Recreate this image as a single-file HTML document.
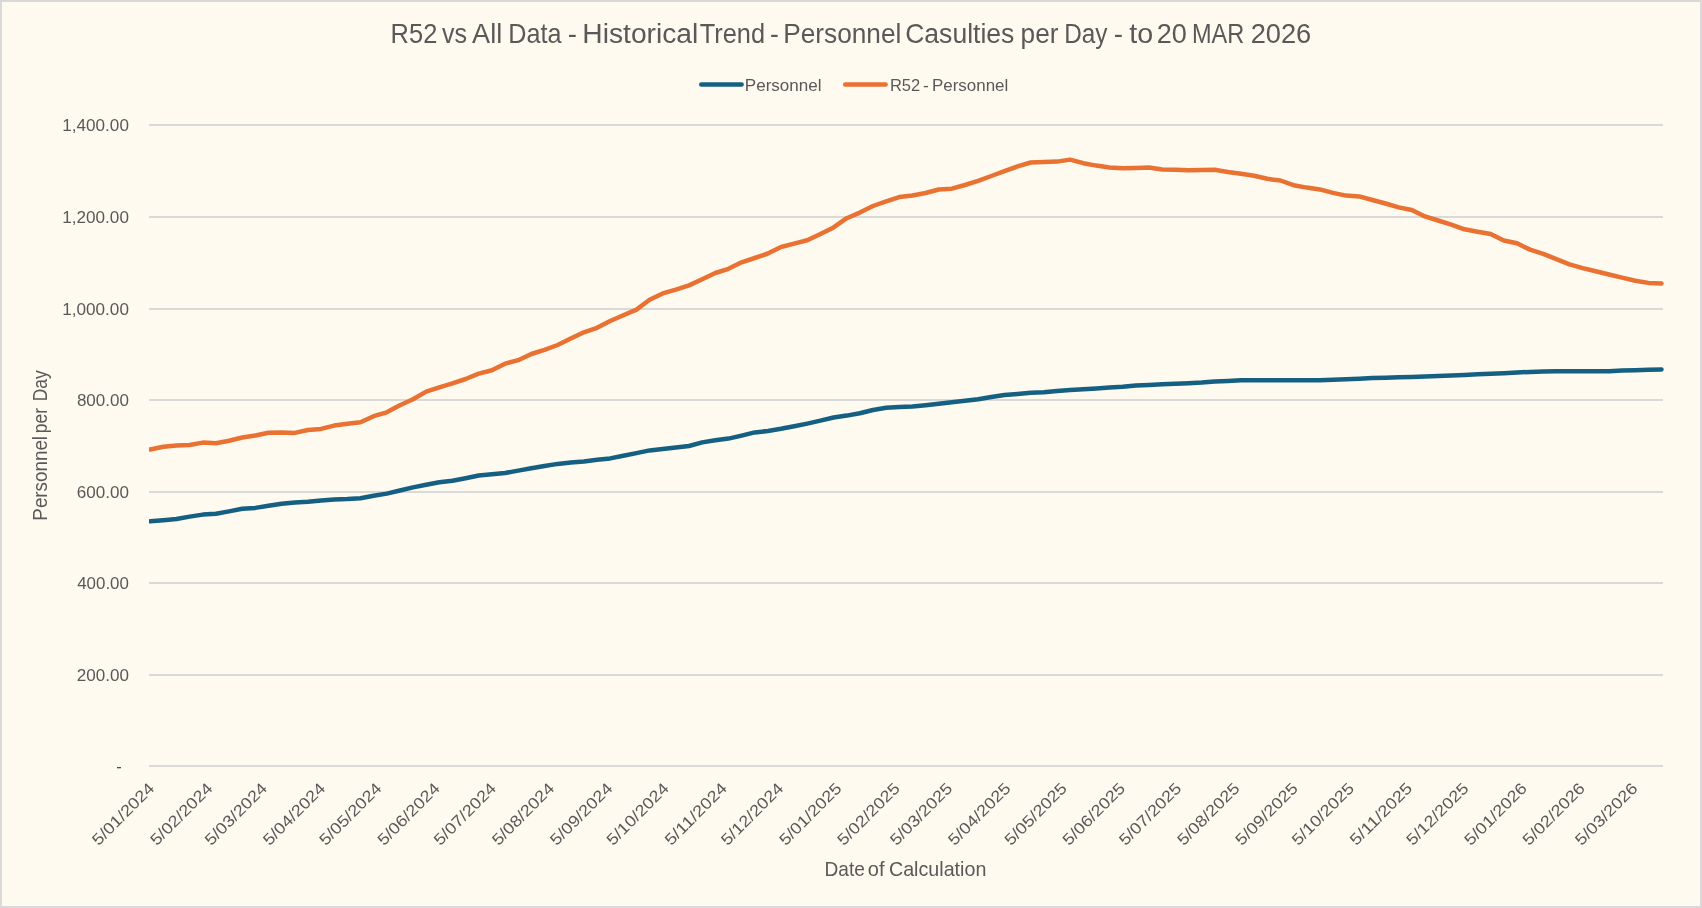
<!DOCTYPE html>
<html><head><meta charset="utf-8"><title>R52 vs All Data - Historical Trend</title>
<style>
html,body{margin:0;padding:0;background:#D9D9D9;}
#c{position:relative;width:1702px;height:908px;background:#FEFAEF;overflow:hidden;}
svg{position:absolute;left:0;top:0;will-change:transform;}
text{font-family:"Liberation Sans",sans-serif;fill:#595959;}
</style></head><body>
<div id="c">
<svg width="1702" height="908" viewBox="0 0 1702 908">
<defs><clipPath id="pa"><rect x="149" y="100" width="1540" height="700"/></clipPath></defs>

<rect x="1" y="1" width="1700" height="906" fill="none" stroke="#D9D9D9" stroke-width="2"/>
<rect x="149" y="124" width="1514" height="2" fill="#D9D9D9"/>
<rect x="149" y="216" width="1514" height="2" fill="#D9D9D9"/>
<rect x="149" y="308" width="1514" height="2" fill="#D9D9D9"/>
<rect x="149" y="399" width="1514" height="2" fill="#D9D9D9"/>
<rect x="149" y="491" width="1514" height="2" fill="#D9D9D9"/>
<rect x="149" y="582" width="1514" height="2" fill="#D9D9D9"/>
<rect x="149" y="674" width="1514" height="2" fill="#D9D9D9"/>
<rect x="149" y="765" width="1514" height="2" fill="#D9D9D9"/>
<text transform="translate(390.60,42.90) scale(0.9313,1)" font-size="27.35">R52</text>
<text transform="translate(441.98,42.90) scale(0.9141,1)" font-size="27.35">vs</text>
<text transform="translate(472.03,42.90) scale(0.9926,1)" font-size="27.35">All</text>
<text transform="translate(508.22,42.90) scale(0.9215,1)" font-size="27.35">Data</text>
<text transform="translate(567.86,42.90) scale(1.0102,1)" font-size="27.35">-</text>
<text transform="translate(582.37,42.90) scale(1.0316,1)" font-size="27.35">Historical</text>
<text transform="translate(699.73,42.90) scale(0.9280,1)" font-size="27.35">Trend</text>
<text transform="translate(770.01,42.90) scale(0.9650,1)" font-size="27.35">-</text>
<text transform="translate(783.24,42.90) scale(0.9593,1)" font-size="27.35">Personnel</text>
<text transform="translate(905.17,42.90) scale(0.9714,1)" font-size="27.35">Casulties</text>
<text transform="translate(1020.60,42.90) scale(0.9589,1)" font-size="27.35">per</text>
<text transform="translate(1064.19,42.90) scale(0.8900,1)" font-size="27.35">Day</text>
<text transform="translate(1113.66,42.90) scale(1.0102,1)" font-size="27.35">-</text>
<text transform="translate(1129.27,42.90) scale(1.0487,1)" font-size="27.35">to</text>
<text transform="translate(1156.75,42.90) scale(0.9905,1)" font-size="27.35">20</text>
<text transform="translate(1191.96,42.90) scale(0.8614,1)" font-size="27.35">MAR</text>
<text transform="translate(1250.64,42.90) scale(0.9973,1)" font-size="27.35">2026</text>
<line x1="701.3" y1="84.6" x2="741.6" y2="84.6" stroke="#156082" stroke-width="4.5" stroke-linecap="round"/>
<text transform="translate(744.79,90.90) scale(1.0028,1)" font-size="17.00">Personnel</text>
<line x1="845.2" y1="84.5" x2="885.6" y2="84.5" stroke="#E97132" stroke-width="4.5" stroke-linecap="round"/>
<text transform="translate(889.94,90.90) scale(0.9723,1)" font-size="17.00">R52</text>
<text transform="translate(923.02,90.90) scale(1.0188,1)" font-size="17.00">-</text>
<text transform="translate(931.90,90.90) scale(0.9987,1)" font-size="17.00">Personnel</text>
<text transform="translate(62.21,130.80) scale(1.0144,1)" font-size="16.90">1,400.00</text>
<text transform="translate(62.21,222.80) scale(1.0144,1)" font-size="16.90">1,200.00</text>
<text transform="translate(62.21,314.80) scale(1.0144,1)" font-size="16.90">1,000.00</text>
<text transform="translate(76.88,405.80) scale(1.0076,1)" font-size="16.90">800.00</text>
<text transform="translate(76.75,497.80) scale(1.0101,1)" font-size="16.90">600.00</text>
<text transform="translate(77.22,588.80) scale(1.0008,1)" font-size="16.90">400.00</text>
<text transform="translate(76.75,680.80) scale(1.0101,1)" font-size="16.90">200.00</text>
<rect x="117" y="767" width="4" height="1.3" fill="#4d4d4d"/>
<text transform="translate(46.80,520.65) rotate(-90) scale(0.9362,1)" font-size="20.10">Personnel</text>
<text transform="translate(46.80,433.13) rotate(-90) scale(0.8675,1)" font-size="20.10">per</text>
<text transform="translate(46.80,401.24) rotate(-90) scale(0.8672,1)" font-size="20.10">Day</text>
<text transform="translate(824.52,875.90) scale(0.9314,1)" font-size="20.50">Date</text>
<text transform="translate(867.85,875.90) scale(0.9787,1)" font-size="20.50">of</text>
<text transform="translate(888.92,875.90) scale(0.9610,1)" font-size="20.50">Calculation</text>
<text transform="translate(151.30,785.20) rotate(-45)" x="0" y="5.9" font-size="16" text-anchor="end" textLength="80.5" lengthAdjust="spacingAndGlyphs">5/01/2024</text>
<text transform="translate(209.50,785.20) rotate(-45)" x="0" y="5.9" font-size="16" text-anchor="end" textLength="80.5" lengthAdjust="spacingAndGlyphs">5/02/2024</text>
<text transform="translate(263.94,785.20) rotate(-45)" x="0" y="5.9" font-size="16" text-anchor="end" textLength="80.5" lengthAdjust="spacingAndGlyphs">5/03/2024</text>
<text transform="translate(322.13,785.20) rotate(-45)" x="0" y="5.9" font-size="16" text-anchor="end" textLength="80.5" lengthAdjust="spacingAndGlyphs">5/04/2024</text>
<text transform="translate(378.45,785.20) rotate(-45)" x="0" y="5.9" font-size="16" text-anchor="end" textLength="80.5" lengthAdjust="spacingAndGlyphs">5/05/2024</text>
<text transform="translate(436.65,785.20) rotate(-45)" x="0" y="5.9" font-size="16" text-anchor="end" textLength="80.5" lengthAdjust="spacingAndGlyphs">5/06/2024</text>
<text transform="translate(492.97,785.20) rotate(-45)" x="0" y="5.9" font-size="16" text-anchor="end" textLength="80.5" lengthAdjust="spacingAndGlyphs">5/07/2024</text>
<text transform="translate(551.16,785.20) rotate(-45)" x="0" y="5.9" font-size="16" text-anchor="end" textLength="80.5" lengthAdjust="spacingAndGlyphs">5/08/2024</text>
<text transform="translate(609.36,785.20) rotate(-45)" x="0" y="5.9" font-size="16" text-anchor="end" textLength="80.5" lengthAdjust="spacingAndGlyphs">5/09/2024</text>
<text transform="translate(665.68,785.20) rotate(-45)" x="0" y="5.9" font-size="16" text-anchor="end" textLength="80.5" lengthAdjust="spacingAndGlyphs">5/10/2024</text>
<text transform="translate(723.88,785.20) rotate(-45)" x="0" y="5.9" font-size="16" text-anchor="end" textLength="80.5" lengthAdjust="spacingAndGlyphs">5/11/2024</text>
<text transform="translate(780.20,785.20) rotate(-45)" x="0" y="5.9" font-size="16" text-anchor="end" textLength="80.5" lengthAdjust="spacingAndGlyphs">5/12/2024</text>
<text transform="translate(838.39,785.20) rotate(-45)" x="0" y="5.9" font-size="16" text-anchor="end" textLength="80.5" lengthAdjust="spacingAndGlyphs">5/01/2025</text>
<text transform="translate(896.59,785.20) rotate(-45)" x="0" y="5.9" font-size="16" text-anchor="end" textLength="80.5" lengthAdjust="spacingAndGlyphs">5/02/2025</text>
<text transform="translate(949.15,785.20) rotate(-45)" x="0" y="5.9" font-size="16" text-anchor="end" textLength="80.5" lengthAdjust="spacingAndGlyphs">5/03/2025</text>
<text transform="translate(1007.35,785.20) rotate(-45)" x="0" y="5.9" font-size="16" text-anchor="end" textLength="80.5" lengthAdjust="spacingAndGlyphs">5/04/2025</text>
<text transform="translate(1063.67,785.20) rotate(-45)" x="0" y="5.9" font-size="16" text-anchor="end" textLength="80.5" lengthAdjust="spacingAndGlyphs">5/05/2025</text>
<text transform="translate(1121.86,785.20) rotate(-45)" x="0" y="5.9" font-size="16" text-anchor="end" textLength="80.5" lengthAdjust="spacingAndGlyphs">5/06/2025</text>
<text transform="translate(1178.18,785.20) rotate(-45)" x="0" y="5.9" font-size="16" text-anchor="end" textLength="80.5" lengthAdjust="spacingAndGlyphs">5/07/2025</text>
<text transform="translate(1236.38,785.20) rotate(-45)" x="0" y="5.9" font-size="16" text-anchor="end" textLength="80.5" lengthAdjust="spacingAndGlyphs">5/08/2025</text>
<text transform="translate(1294.58,785.20) rotate(-45)" x="0" y="5.9" font-size="16" text-anchor="end" textLength="80.5" lengthAdjust="spacingAndGlyphs">5/09/2025</text>
<text transform="translate(1350.89,785.20) rotate(-45)" x="0" y="5.9" font-size="16" text-anchor="end" textLength="80.5" lengthAdjust="spacingAndGlyphs">5/10/2025</text>
<text transform="translate(1409.09,785.20) rotate(-45)" x="0" y="5.9" font-size="16" text-anchor="end" textLength="80.5" lengthAdjust="spacingAndGlyphs">5/11/2025</text>
<text transform="translate(1465.41,785.20) rotate(-45)" x="0" y="5.9" font-size="16" text-anchor="end" textLength="80.5" lengthAdjust="spacingAndGlyphs">5/12/2025</text>
<text transform="translate(1523.61,785.20) rotate(-45)" x="0" y="5.9" font-size="16" text-anchor="end" textLength="80.5" lengthAdjust="spacingAndGlyphs">5/01/2026</text>
<text transform="translate(1581.80,785.20) rotate(-45)" x="0" y="5.9" font-size="16" text-anchor="end" textLength="80.5" lengthAdjust="spacingAndGlyphs">5/02/2026</text>
<text transform="translate(1634.37,785.20) rotate(-45)" x="0" y="5.9" font-size="16" text-anchor="end" textLength="80.5" lengthAdjust="spacingAndGlyphs">5/03/2026</text>
<g clip-path="url(#pa)" fill="none" stroke-width="4.5" stroke-linejoin="round" stroke-linecap="round">
<path d="M150.20,521.30 L163.34,520.20 L176.48,519.00 L189.63,516.60 L202.77,514.60 L215.91,513.70 L229.05,511.40 L242.19,508.80 L255.33,507.90 L268.48,505.80 L281.62,503.70 L294.76,502.50 L307.90,501.70 L321.04,500.50 L334.19,499.40 L347.33,499.00 L360.47,498.20 L373.61,495.70 L386.75,493.60 L399.89,490.50 L413.04,487.40 L426.18,484.80 L439.32,482.30 L452.46,480.80 L465.60,478.30 L478.75,475.50 L491.89,474.30 L505.03,473.00 L518.17,470.60 L531.31,468.20 L544.45,466.00 L557.60,463.90 L570.74,462.50 L583.88,461.50 L597.02,459.80 L610.16,458.40 L623.30,455.70 L636.45,453.10 L649.59,450.40 L662.73,449.00 L675.87,447.60 L689.01,446.00 L702.16,442.40 L715.30,440.30 L728.44,438.60 L741.58,435.60 L754.72,432.40 L767.86,431.00 L781.01,428.80 L794.15,426.30 L807.29,423.60 L820.43,420.60 L833.57,417.50 L846.72,415.60 L859.86,413.30 L873.00,410.00 L886.14,407.80 L899.28,407.00 L912.42,406.50 L925.57,405.20 L938.71,403.70 L951.85,402.20 L964.99,400.80 L978.13,399.30 L991.28,397.00 L1004.42,395.00 L1017.56,393.90 L1030.70,392.80 L1043.84,392.20 L1056.98,391.00 L1070.13,390.00 L1083.27,389.20 L1096.41,388.40 L1109.55,387.60 L1122.69,386.80 L1135.84,385.50 L1148.98,384.90 L1162.12,384.30 L1175.26,383.80 L1188.40,383.20 L1201.54,382.60 L1214.69,381.60 L1227.83,381.00 L1240.97,380.30 L1254.11,380.20 L1267.25,380.20 L1280.39,380.20 L1293.54,380.20 L1306.68,380.20 L1319.82,380.20 L1332.96,379.70 L1346.10,379.30 L1359.25,378.80 L1372.39,378.10 L1385.53,377.70 L1398.67,377.30 L1411.81,377.00 L1424.95,376.60 L1438.10,376.00 L1451.24,375.50 L1464.38,374.90 L1477.52,374.30 L1490.66,373.70 L1503.81,373.20 L1516.95,372.50 L1530.09,371.90 L1543.23,371.40 L1556.37,371.20 L1569.51,371.20 L1582.66,371.20 L1595.80,371.20 L1608.94,371.20 L1622.08,370.60 L1635.22,370.20 L1648.37,369.80 L1661.51,369.50" stroke="#156082"/>
<path d="M150.20,449.50 L163.34,446.70 L176.48,445.50 L189.63,445.00 L202.77,442.60 L215.91,443.20 L229.05,440.80 L242.19,437.50 L255.33,435.50 L268.48,432.80 L281.62,432.40 L294.76,432.90 L307.90,430.00 L321.04,428.90 L334.19,425.60 L347.33,423.70 L360.47,422.30 L373.61,416.20 L386.75,412.30 L399.89,405.30 L413.04,399.20 L426.18,391.60 L439.32,387.40 L452.46,383.40 L465.60,379.00 L478.75,373.60 L491.89,370.30 L505.03,363.70 L518.17,360.20 L531.31,354.00 L544.45,349.80 L557.60,345.00 L570.74,338.60 L583.88,332.30 L597.02,327.80 L610.16,321.00 L623.30,315.30 L636.45,309.60 L649.59,299.80 L662.73,293.40 L675.87,289.60 L689.01,285.40 L702.16,279.20 L715.30,273.00 L728.44,268.80 L741.58,262.30 L754.72,258.00 L767.86,253.50 L781.01,247.00 L794.15,243.60 L807.29,240.20 L820.43,234.00 L833.57,227.40 L846.72,218.20 L859.86,212.60 L873.00,206.00 L886.14,201.30 L899.28,197.10 L912.42,195.50 L925.57,193.00 L938.71,189.50 L951.85,188.70 L964.99,185.00 L978.13,180.80 L991.28,176.00 L1004.42,171.20 L1017.56,166.40 L1030.70,162.50 L1043.84,161.90 L1056.98,161.60 L1070.13,159.60 L1083.27,163.20 L1096.41,165.60 L1109.55,167.40 L1122.69,168.30 L1135.84,168.00 L1148.98,167.60 L1162.12,169.40 L1175.26,169.80 L1188.40,170.20 L1201.54,170.00 L1214.69,169.80 L1227.83,172.00 L1240.97,173.80 L1254.11,175.80 L1267.25,178.80 L1280.39,180.50 L1293.54,185.20 L1306.68,187.60 L1319.82,189.40 L1332.96,192.90 L1346.10,195.60 L1359.25,196.40 L1372.39,200.00 L1385.53,203.50 L1398.67,207.40 L1411.81,210.00 L1424.95,216.40 L1438.10,220.50 L1451.24,224.60 L1464.38,229.30 L1477.52,231.70 L1490.66,234.00 L1503.81,240.50 L1516.95,243.30 L1530.09,249.60 L1543.23,253.80 L1556.37,259.10 L1569.51,264.40 L1582.66,268.10 L1595.80,271.30 L1608.94,274.50 L1622.08,277.60 L1635.22,280.80 L1648.37,282.90 L1661.51,283.50" stroke="#E97132"/>
</g>
</svg>
</div>
</body></html>
